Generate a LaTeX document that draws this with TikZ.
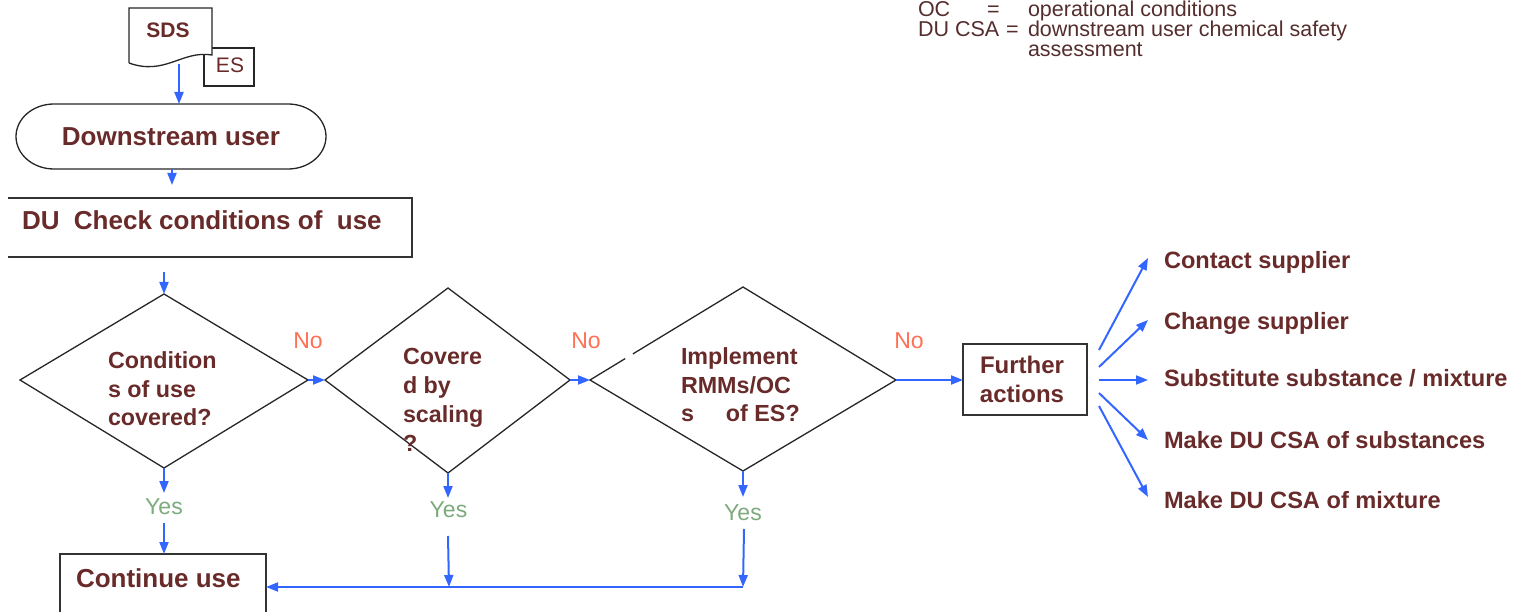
\documentclass[tikz,border=0pt]{standalone}
\usepackage{fontspec}
\setmainfont{Liberation Sans}
\usetikzlibrary{arrows.meta,calc}
\definecolor{txt}{RGB}{105,42,42}
\definecolor{lgd}{RGB}{85,45,45}
\definecolor{arrblue}{RGB}{51,102,255}
\definecolor{nored}{RGB}{255,112,85}
\definecolor{yesgreen}{RGB}{125,170,125}
\begin{document}
\begin{tikzpicture}[x=1pt,y=-1pt,
  every node/.style={inner sep=0pt, outer sep=0pt},
  arr/.style={draw=arrblue, line width=2pt, -{Triangle[length=12pt,width=9pt]}},
  line/.style={draw=black!85, line width=1.3pt},
  boxline/.style={draw=black!80, line width=1.6pt},
  big/.style={font=\bfseries\fontsize{26}{30}\selectfont, text=txt},
  dtext/.style={font=\bfseries\fontsize{23.3}{28.5}\selectfont, text=txt, align=left, anchor=north west},
  item/.style={font=\bfseries\fontsize{23.6}{28}\selectfont, text=txt, anchor=base west},
  nolab/.style={font=\fontsize{23}{28}\selectfont, text=nored, anchor=base},
  yeslab/.style={font=\fontsize{23}{28}\selectfont, text=yesgreen, anchor=base},
  legend/.style={font=\fontsize{21.5}{24}\selectfont, text=lgd, anchor=base west},
]
\useasboundingbox (0,0) rectangle (1516,612);

% legend
\node[legend] (lg1) at (918,17) {OC};
\node[legend] (lg2) at (987,17) {=};
\node[legend] (lg3) at (1028,17) {operational conditions};
\node[legend] (lg4) at (918,37) {DU CSA};
\node[legend] (lg5) at (1006,37) {=};
\node[legend] (lg6) at (1028,37) {downstream user chemical safety};
\node[legend] (lg7) at (1028,57) {assessment};

% SDS / ES
\draw[line, fill=white] (204,48) rectangle (254,86);
\node[font=\fontsize{21}{24}\selectfont, text=txt, anchor=base] (es) at (230,73) {ES};
\draw[line, fill=white] (129,63) -- (129,8) -- (212,8) -- (212,55)
  .. controls (182,50) and (165,76) .. (129,63);
\node[font=\bfseries\fontsize{21}{24}\selectfont, text=txt, anchor=base] (sds) at (168,37.5) {SDS};
\coordinate (sdsb) at (179,64);

% Downstream user
\draw[line] (54,104) -- (288,104) arc[start angle=-90, end angle=90, x radius=38, y radius=32.5]
  -- (54,169) arc[start angle=90, end angle=270, x radius=38, y radius=32.5] -- cycle;
\node[big, minimum width=310pt, minimum height=65pt] (du) at (171,136.5) {Downstream user};
\draw[arr] (sdsb) -- (sdsb |- du.north);

% DU check
\draw[boxline] (8,198) -- (412,198) -- (412,257) -- (8,257);
\node[big, anchor=base west] (chk) at (22,230) {DU~~Check conditions of~~use};
\coordinate (duout) at (172,169);
\coordinate (duend) at (172,185);
\draw[arr] (duout) -- (duend);

% diamonds
\coordinate (d1t) at (164,294); \coordinate (d1l) at (20,380);
\coordinate (d1r) at (308,380); \coordinate (d1b) at (164,468);
\coordinate (d2t) at (448,288); \coordinate (d2l) at (325,380);
\coordinate (d2r) at (570,380); \coordinate (d2b) at (448,473);
\coordinate (d3t) at (743,287); \coordinate (d3l) at (590,380);
\coordinate (d3r) at (896,380); \coordinate (d3b) at (743,471);
\draw[line] (d1t) -- (d1r) -- (d1b) -- (d1l) -- cycle;
\draw[line] (d2t) -- (d2r) -- (d2b) -- (d2l) -- cycle;
\draw[line] ($(d3l)!0.28!(d3t)$) -- (d3t) -- (d3r) -- (d3b) -- (d3l) -- ($(d3l)!0.23!(d3t)$);

\coordinate (chkout) at (164,272);
\draw[arr] (chkout) -- (d1t);

\node[dtext] (q1) at (108,351.7) {Condition\\s of use\\covered?};
\node[dtext, font=\bfseries\fontsize{23.3}{28.7}\selectfont] (q2) at (403,348.7) {Covere\\d by\\scaling\\?};
\node[dtext] (q3) at (681,347.7) {Implement\\RMMs/OC\\s\hspace{32pt}of ES?};

\draw[arr] (d1r) -- (d2l);
\draw[arr] (d2r) -- (d3l);
\node[nolab] (no1) at (308,349) {No};
\node[nolab] (no2) at (586,349) {No};
\node[nolab] (no3) at (909,349) {No};

% further actions
\node[boxline, minimum width=124pt, minimum height=71pt, align=center,
  font=\bfseries\fontsize{24}{29}\selectfont, text=txt] (fa) at (1025,379.5) {\hspace{-6pt}Further\\\hspace{-6pt}actions};
\draw[arr] (d3r) -- (d3r -| fa.west);

\coordinate (fs1) at (1099,350); \coordinate (ft1) at (1148,258);
\coordinate (fs2) at (1099,367); \coordinate (ft2) at (1148,320);
\coordinate (fs3) at (1099,380); \coordinate (ft3) at (1148,380);
\coordinate (fs4) at (1099,393); \coordinate (ft4) at (1148,440);
\coordinate (fs5) at (1099,406); \coordinate (ft5) at (1148,497);
\draw[arr] (fs1) -- (ft1);
\draw[arr] (fs2) -- (ft2);
\draw[arr] (fs3) -- (ft3);
\draw[arr] (fs4) -- (ft4);
\draw[arr] (fs5) -- (ft5);
\node[item] (it1) at (1164,269) {Contact supplier};
\node[item] (it2) at (1164,330) {Change supplier};
\node[item] (it3) at (1164,387) {Substitute substance / mixture};
\node[item] (it4) at (1164,448) {Make DU CSA of substances};
\node[item] (it5) at (1164,508) {Make DU CSA of mixture};

% yes branches
\node[yeslab] (yes1) at (164,514) {Yes};
\node[yeslab] (yes2) at (448.5,517) {Yes};
\node[yeslab] (yes3) at (743,520) {Yes};
\coordinate (y1a) at (164,493); \coordinate (y1b) at (164,523);
\coordinate (y2a) at (448,498); \coordinate (y2b) at (448,536);
\coordinate (y3a) at (743,497); \coordinate (y3b) at (744,529);
\coordinate (j2) at (449,587); \coordinate (j3) at (743,587);
\draw[arr] (d1b) -- (y1a);
\draw[arr] (d2b) -- (y2a);
\draw[arr] (d3b) -- (y3a);

% continue use
\draw[boxline] (60,612) -- (60,554) -- (266,554) -- (266,612);
\node[big, anchor=base west] (cont) at (76,587) {Continue use};
\coordinate (contT) at (164,554);
\coordinate (contR) at (266,587);
\draw[arr] (y1b) -- (contT);
\draw[arr] (y2b) -- (j2);
\draw[arr] (y3b) -- (j3);
\draw[arr] (j3) -- (contR);
\end{tikzpicture}
\end{document}
